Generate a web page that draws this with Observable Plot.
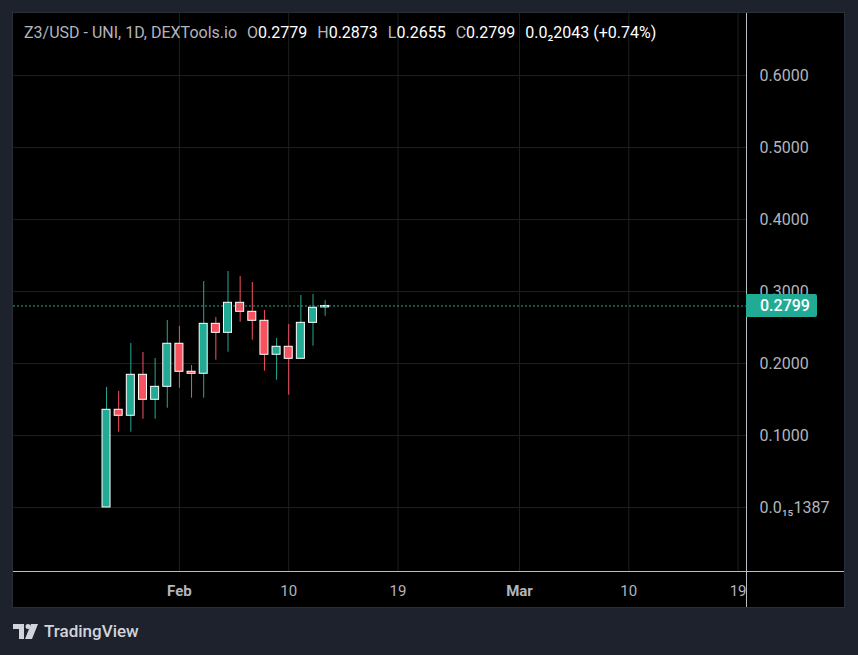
<!DOCTYPE html>
<html>
<head>
<meta charset="utf-8">
<script src="https://cdn.jsdelivr.net/npm/d3@7"></script>
<script src="https://cdn.jsdelivr.net/npm/@observablehq/plot@0.6"></script>
<style>
  html, body { margin: 0; padding: 0; width: 858px; height: 655px; overflow: hidden; background: #1e222d; font-family: Roboto, "Noto Sans", sans-serif; }
  #pane { position: absolute; left: 12px; top: 12px; width: 833px; height: 596px; box-sizing: border-box; border: 1px solid #2a2e39; background: #000; }
  #chart { position: absolute; left: 0; top: 0; }
  #legend { position: absolute; left: 11px; top: 11px; font-size: 16px; color: #b2b5be; white-space: pre; line-height: 18px; }
  #legend .k { margin-left: 10px; }
  #legend .v { color: #ffffff; }
  #brand { position: absolute; left: 13px; top: 621px; display: flex; align-items: center; gap: 6px; color: #d1d4dc; font-size: 17px; font-weight: 500; }
</style>
</head>
<body>
<div id="pane">
  <div id="chart"></div>
  <div id="legend"></div>
</div>
<div id="brand">
  <svg width="25" height="15" viewBox="0 0 25 15">
    <path d="M0 0h11v15h-5v-10h-6z" fill="#d1d4dc"/>
    <circle cx="15" cy="2.5" r="2.5" fill="#d1d4dc"/>
    <path d="M18 0h7l-6 15h-7z" fill="#d1d4dc"/>
  </svg>
  <span>TradingView</span>
</div>
<script>
// Z3/USD daily candles (UNI pool, DEXTools.io)
const dates = ["2025-01-26","2025-01-27","2025-01-28","2025-01-29","2025-01-30","2025-01-31","2025-02-01","2025-02-02","2025-02-03","2025-02-04","2025-02-05","2025-02-06","2025-02-07","2025-02-08","2025-02-09","2025-02-10","2025-02-11","2025-02-12","2025-02-13"];
const open  = [1.387e-16, 0.1357, 0.1274, 0.1843, 0.1496, 0.1676, 0.2274, 0.1885, 0.1857, 0.2551, 0.2426, 0.2843, 0.2718, 0.2593, 0.2121, 0.2232, 0.2065, 0.2565, 0.2779];
const high  = [0.1667, 0.1611, 0.2278, 0.2153, 0.2069, 0.2597, 0.2514, 0.1972, 0.3139, 0.2639, 0.3278, 0.3208, 0.3125, 0.2736, 0.2347, 0.2542, 0.2944, 0.2958, 0.2873];
const low   = [1.387e-16, 0.1046, 0.1046, 0.1226, 0.1226, 0.1379, 0.1657, 0.1518, 0.1518, 0.2046, 0.2157, 0.2574, 0.2324, 0.1893, 0.1768, 0.1560, 0.2065, 0.2240, 0.2655];
const close = [0.1357, 0.1274, 0.1843, 0.1496, 0.1676, 0.2274, 0.1885, 0.1857, 0.2551, 0.2426, 0.2843, 0.2718, 0.2593, 0.2121, 0.2232, 0.2065, 0.2565, 0.2774, 0.2799];

// price scale ticks and their labels
const yTickValues = [1.387e-16, 0.1, 0.2, 0.3, 0.4, 0.5, 0.6];
const yTickLabels = ["0.0\u2081\u20851387", "0.1000", "0.2000", "0.3000", "0.4000", "0.5000", "0.6000"];

// time scale ticks: month starts (bold) and day numbers
const monthTicks = ["2025-02-01", "2025-03-01"];
const monthLabels = ["Feb", "Mar"];
const dayTicks = ["2025-02-10", "2025-02-19", "2025-03-10", "2025-03-19"];
const dayLabels = ["10", "19", "10", "19"];

const changeText = "0.0\u20822043 (+0.74%)";

const UP = "#22ab94", DOWN = "#f7525f";
const DAY = 864e5;
const parse = s => new Date(s + "T00:00:00Z");

const candles = dates.map((d, i) => ({
  date: parse(d), open: open[i], high: high[i], low: low[i], close: close[i],
  color: close[i] >= open[i] ? UP : DOWN
}));
const last = candles[candles.length - 1];

const feb1 = parse("2025-02-01").getTime();
const xDomain = [new Date(feb1 - 13.66 * DAY), new Date(feb1 + 46.69 * DAY)];
const yDomain = [-0.08889, 0.68611];
const half = 0.33 * DAY;

const W = 831, H = 594;

// pane separators between chart, price scale and time scale
const separators = (index, scales, values, dim) => {
  const g = d3.create("svg:g").attr("stroke", "#b9bcc4").attr("stroke-width", 1);
  const xr = dim.width - dim.marginRight + 0.5;
  const yb = dim.height - dim.marginBottom + 0.5;
  g.append("line").attr("x1", xr).attr("x2", xr).attr("y1", 0).attr("y2", dim.height);
  g.append("line").attr("x1", 0).attr("x2", dim.width).attr("y1", yb).attr("y2", yb);
  return g.node();
};

// last-price tag on the price scale
const priceTag = (index, scales, values, dim) => {
  const y = scales.y(last.close);
  const x0 = dim.width - dim.marginRight;
  const g = d3.create("svg:g");
  g.append("path")
    .attr("d", `M${x0},${y - 11.5}h69a2,2 0 0 1 2,2v19a2,2 0 0 1 -2,2h-69z`)
    .attr("fill", UP);
  g.append("text")
    .attr("x", x0 + 14).attr("y", y).attr("dy", "0.35em")
    .attr("text-anchor", "start")
    .attr("fill", "#ffffff").attr("font-size", 16).attr("font-weight", 500)
    .attr("font-family", "Roboto, sans-serif")
    .text(last.close.toFixed(4));
  return g.node();
};

const chart = Plot.plot({
  width: W,
  height: H,
  marginLeft: 0,
  marginTop: 0,
  marginRight: 98,
  marginBottom: 36,
  style: { background: "transparent", fontFamily: "Roboto, sans-serif", fontSize: "16px", color: "#b2b5be", overflow: "visible" },
  x: { type: "utc", domain: xDomain },
  y: { domain: yDomain },
  marks: [
    Plot.gridX([...monthTicks, ...dayTicks].map(parse), { stroke: "#1f1f1f", strokeOpacity: 1 }),
    Plot.gridY(yTickValues, { stroke: "#1f1f1f", strokeOpacity: 1 }),
    Plot.axisY({ anchor: "right", ticks: yTickValues, tickFormat: (d, i) => yTickLabels[yTickValues.indexOf(d)], tickSize: 0, tickPadding: 13, textAnchor: "start", fill: "#b2b5be", fontSize: 16, label: null }),
    Plot.axisX({ ticks: monthTicks.map(parse), tickFormat: d => monthLabels[monthTicks.indexOf(d.toISOString().slice(0, 10))], tickSize: 0, tickPadding: 14, fill: "#b2b5be", fontSize: 15, fontWeight: "bold", label: null }),
    Plot.axisX({ ticks: dayTicks.map(parse), tickFormat: d => dayLabels[dayTicks.indexOf(d.toISOString().slice(0, 10))], tickSize: 0, tickPadding: 14, fill: "#b2b5be", fontSize: 15, label: null }),
    Plot.ruleX(candles, { x: "date", y1: "low", y2: "high", stroke: "color" }),
    Plot.rect(candles, {
      x1: d => new Date(d.date.getTime() - half),
      x2: d => new Date(d.date.getTime() + half),
      y1: "open", y2: "close", fill: "color", stroke: "#ffffff", strokeWidth: 1
    }),
    Plot.ruleY([last.close], { stroke: UP, strokeDasharray: "2,2", strokeWidth: 1 }),
    separators,
    priceTag
  ]
});
document.getElementById("chart").appendChild(chart);

// legend line with the last bar's OHLC
const f = v => v.toFixed(4);
document.getElementById("legend").innerHTML =
  `Z3/USD - UNI, 1D, DEXTools.io<span class="k">O</span><span class="v">${f(last.open)}</span>` +
  `<span class="k">H</span><span class="v">${f(last.high)}</span>` +
  `<span class="k">L</span><span class="v">${f(last.low)}</span>` +
  `<span class="k">C</span><span class="v">${f(last.close)}</span>` +
  `<span class="k v">${changeText}</span>`;
</script>
</body>
</html>
